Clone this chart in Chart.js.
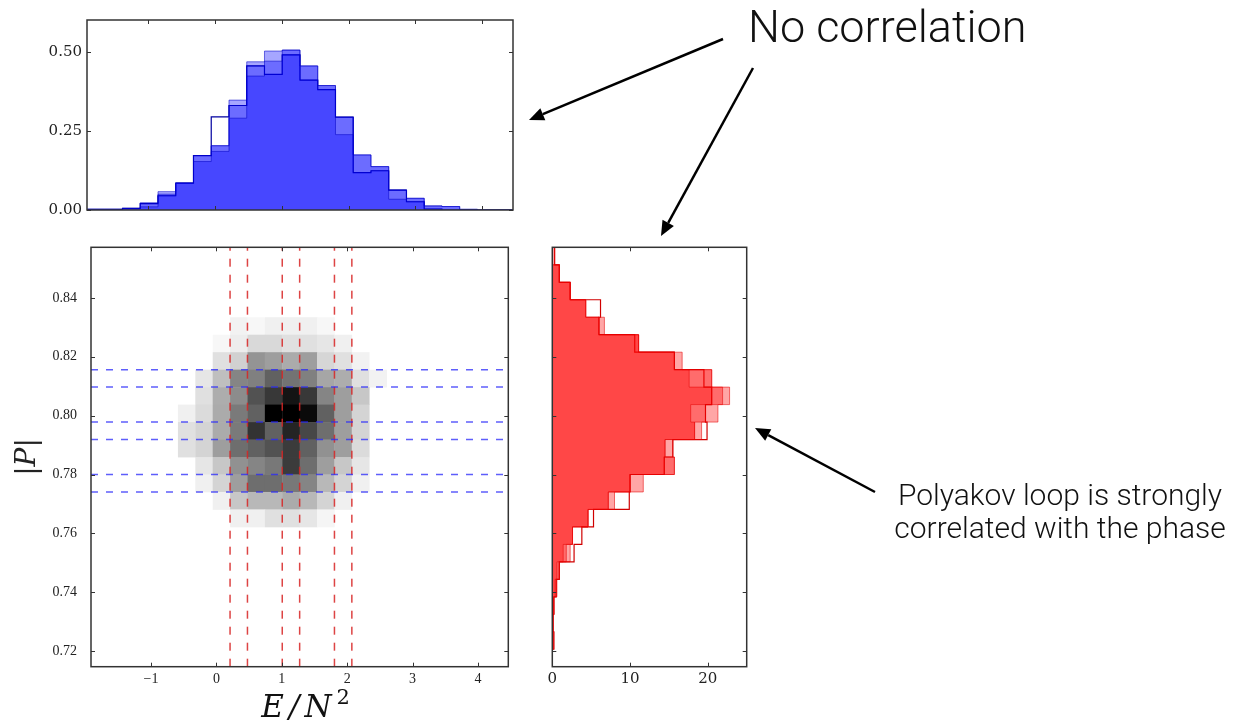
<!DOCTYPE html>
<html>
<head>
<meta charset="utf-8">
<title>Polyakov loop vs E/N^2</title>
<script src="https://cdn.jsdelivr.net/npm/chart.js@4.4.1/dist/chart.umd.min.js"></script>
<style>
  html, body { margin: 0; padding: 0; background: #fff; }
  body { position: relative; width: 1235px; height: 726px; overflow: hidden; }
  canvas { position: absolute; }
  #topHist { left: 27px; top: 6px; }
  #heat { left: 0px; top: 230px; }
  #sideHist { left: 540px; top: 230px; }
  #notes { left: 0; top: 0; pointer-events: none; }
  .note { position: absolute; font-family: Roboto, 'Open Sans', 'Liberation Sans', sans-serif; font-weight: 300; color: #111; white-space: nowrap; }
</style>
</head>
<body>
<canvas id="topHist" width="494" height="214"></canvas>
<canvas id="heat" width="520" height="496"></canvas>
<canvas id="sideHist" width="220" height="496"></canvas>
<canvas id="notes" width="1235" height="726"></canvas>
<div class="note" style="left:748px;top:-1px;font-size:45px;line-height:56px">No correlation</div>
<div class="note" style="left:880px;top:478px;width:360px;text-align:center;font-size:30px;line-height:33px">Polyakov loop is strongly<br>correlated with the phase</div>

<script>
// histogram bins, shared by the three panels (24 bins each way)
const eStart = -1.917, eWidth = 0.2658;
const pStart = 0.7147, pWidth = 0.005937;
const eEdges = Array.from({length: 25}, (_, i) => eStart + i * eWidth);
const pEdges = Array.from({length: 25}, (_, i) => pStart + i * pWidth);

// E/N^2 distributions in the three |P| slices (top panel)
const blueA = [0.002, 0.002, 0.005, 0.010, 0.045, 0.085, 0.153, 0.185, 0.290, 0.423, 0.428, 0.490,
               0.410, 0.380, 0.238, 0.118, 0.124, 0.034, 0.026, 0.003, 0, 0.002, 0, 0];
const blueB = [0.002, 0.002, 0.005, 0.020, 0.050, 0.085, 0.172, 0.203, 0.330, 0.455, 0.470, 0.505,
               0.455, 0.393, 0.293, 0.174, 0.137, 0.063, 0.037, 0.013, 0.011, 0.002, 0, 0];
const blueC = [0.002, 0.002, 0.005, 0.023, 0.058, 0.085, 0.172, 0.203, 0.347, 0.468, 0.502, 0.505,
               0.455, 0.393, 0.293, 0.174, 0.137, 0.063, 0.037, 0.013, 0.011, 0.002, 0, 0];
const blueStep = [0.002, 0.002, 0.005, 0.020, 0.045, 0.085, 0.172, 0.294, 0.330, 0.455, 0.428, 0.490,
                  0.410, 0.380, 0.293, 0.118, 0.124, 0.063, 0.026, 0.003, 0, 0, 0, 0];

// |P| distributions in the three E/N^2 slices (right panel), bins bottom -> top
const redA = [0, 0.1, 0.1, 0.2, 0.35, 0.6, 1.4, 2.6, 4.6, 7.2, 10.0, 14.4,
              14.5, 18.3, 17.8, 20.5, 17.6, 15.7, 11.1, 6.0, 4.3, 2.3, 0.9, 0];
const redB = [0, 0.1, 0.1, 0.2, 0.5, 0.9, 1.8, 2.6, 4.6, 7.2, 10.0, 15.7,
              14.5, 18.3, 19.7, 21.9, 20.5, 15.7, 11.1, 6.0, 4.3, 2.3, 0.9, 0];
const redC = [0, 0.2, 0.1, 0.2, 0.6, 0.9, 2.3, 2.6, 4.6, 8.0, 11.7, 15.7,
              15.5, 19.2, 21.3, 22.8, 20.5, 16.7, 11.1, 6.7, 4.3, 2.3, 0.9, 0.3];
const redStep = [0, 0.2, 0.1, 0.2, 0.5, 0.9, 2.8, 3.8, 5.3, 9.9, 10.0, 14.4,
                 15.5, 19.9, 19.7, 20.5, 19.5, 15.7, 10.6, 6.0, 6.2, 2.3, 0.9, 0.3];

// 2d histogram (normalised), rows from |P| bin 19 down to 8, columns E bins 5..16
const heatCol0 = 5, heatRowTop = 19;
const heatCounts = [
  [0,    0,    0,    0.05, 0.03, 0.06, 0.06, 0.06, 0.03, 0,    0,    0   ],
  [0,    0,    0.03, 0.07, 0.15, 0.15, 0.12, 0.12, 0.10, 0.06, 0,    0   ],
  [0,    0,    0.12, 0.18, 0.42, 0.38, 0.33, 0.38, 0.16, 0.12, 0.05, 0   ],
  [0,    0.10, 0.25, 0.48, 0.50, 0.62, 0.55, 0.50, 0.35, 0.32, 0.12, 0.05],
  [0,    0.12, 0.32, 0.45, 0.68, 0.78, 0.92, 0.78, 0.48, 0.38, 0.22, 0   ],
  [0.06, 0.14, 0.33, 0.52, 0.62, 1.00, 1.00, 0.96, 0.62, 0.38, 0.17, 0   ],
  [0.12, 0.17, 0.33, 0.52, 0.80, 0.62, 0.86, 0.72, 0.57, 0.38, 0.17, 0   ],
  [0.12, 0.17, 0.38, 0.57, 0.62, 0.68, 0.77, 0.62, 0.43, 0.38, 0.14, 0   ],
  [0,    0.10, 0.22, 0.43, 0.48, 0.53, 0.77, 0.57, 0.38, 0.22, 0.10, 0   ],
  [0,    0.06, 0.17, 0.38, 0.57, 0.57, 0.53, 0.48, 0.28, 0.17, 0.06, 0   ],
  [0,    0,    0.06, 0.22, 0.28, 0.28, 0.33, 0.28, 0.17, 0.06, 0,    0   ],
  [0,    0,    0,    0.06, 0.06, 0.12, 0.12, 0.10, 0.04, 0,    0,    0   ]
];

// slice boundaries drawn as dashed lines
const eCuts = [0.209, 0.475, 1.007, 1.273, 1.805, 2.071];
const pCuts = [0.7741, 0.7800, 0.7919, 0.7978, 0.8097, 0.8156];

const eRange = [-1.917, 4.463];
const pRange = [0.7147, 0.8572];

Chart.defaults.font.family = "'Liberation Serif', 'DejaVu Serif', serif";
Chart.defaults.color = '#222';

// matplotlib-ish frame with inward ticks on all four sides
const frameTicks = {
  id: 'frameTicks',
  afterDraw(chart) {
    const {ctx, chartArea: a, scales: {x, y}} = chart;
    ctx.save();
    ctx.strokeStyle = '#333';
    ctx.lineWidth = 1;
    ctx.beginPath();
    x.ticks.forEach(t => {
      const px = Math.round(x.getPixelForValue(t.value)) + 0.5;
      ctx.moveTo(px, a.bottom); ctx.lineTo(px, a.bottom - 4);
      ctx.moveTo(px, a.top); ctx.lineTo(px, a.top + 4);
    });
    y.ticks.forEach(t => {
      const py = Math.round(y.getPixelForValue(t.value)) + 0.5;
      ctx.moveTo(a.left, py); ctx.lineTo(a.left + 4, py);
      ctx.moveTo(a.right, py); ctx.lineTo(a.right - 4, py);
    });
    ctx.stroke();
    ctx.lineWidth = 1.5;
    ctx.strokeRect(a.left, a.top, a.right - a.left, a.bottom - a.top);
    ctx.restore();
  }
};

// grey 2d histogram cells
const heatLayer = {
  id: 'heatLayer',
  beforeDatasetsDraw(chart) {
    const {ctx, scales: {x, y}} = chart;
    ctx.save();
    heatCounts.forEach((row, r) => {
      const k = heatRowTop - r;
      const y0 = y.getPixelForValue(pEdges[k + 1]);
      const y1 = y.getPixelForValue(pEdges[k]);
      row.forEach((v, c) => {
        if (!v) return;
        const j = heatCol0 + c;
        const x0 = x.getPixelForValue(eEdges[j]);
        const x1 = x.getPixelForValue(eEdges[j + 1]);
        const g = Math.round(255 * (1 - v));
        ctx.fillStyle = `rgb(${g},${g},${g})`;
        ctx.fillRect(x0, y0, x1 - x0 + 0.4, y1 - y0 + 0.4);
      });
    });
    ctx.restore();
  }
};

// x-axis label E/N^2 with a real superscript (chart.js titles are single-font)
const energyTitle = {
  id: 'energyTitle',
  afterDraw(chart) {
    const {ctx, chartArea: a} = chart;
    const base = chart.height - 9.5;
    ctx.save();
    ctx.fillStyle = '#111';
    ctx.textBaseline = 'alphabetic';
    ctx.font = "italic 31px 'DejaVu Serif'";
    ctx.letterSpacing = '5px';
    const w1 = ctx.measureText('E/N').width;
    ctx.font = "21px 'DejaVu Serif'";
    ctx.letterSpacing = '0px';
    const w2 = ctx.measureText('2').width;
    const x0 = (a.left + a.right) / 2 + 6 - (w1 + w2) / 2;
    ctx.font = "italic 31px 'DejaVu Serif'";
    ctx.letterSpacing = '5px';
    ctx.fillText('E/N', x0, base);
    ctx.font = "21px 'DejaVu Serif'";
    ctx.letterSpacing = '0px';
    ctx.fillText('2', x0 + w1, base - 13);
    ctx.restore();
  }
};

const fixWidth = w => scale => { scale.width = w; };
const fixHeight = h => scale => { scale.height = h; };
const minus = v => (v < 0 ? '\u2212' + Math.abs(v) : String(v));
// label gap comes from an undrawn tick length, so it does not eat into the layout padding
const noGrid = gap => ({display: false, drawTicks: true, tickLength: gap});

// step outline along E (horizontal bins)
const eSteps = vals => vals.map((v, i) => ({x: eEdges[i], y: v})).concat([{x: eEdges[vals.length], y: 0}]);
// step outline along |P| (vertical bins)
const pSteps = vals => [{x: 0, y: pEdges[0]}]
  .concat(vals.map((v, i) => ({x: v, y: pEdges[i]})))
  .concat([{x: 0, y: pEdges[vals.length]}]);

function histSet(data, fill, edge, width, filled) {
  return {
    data, stepped: true, tension: 0, pointRadius: 0,
    backgroundColor: fill, borderColor: edge, borderWidth: width,
    fill: filled ? 'origin' : false
  };
}

const blueFill = 'rgba(0,0,255,0.35)';
const redFill = 'rgba(255,0,0,0.35)';

new Chart(document.getElementById('topHist'), {
  type: 'line',
  data: {
    datasets: [
      histSet(eSteps(blueA), blueFill, 'rgba(0,0,200,0.55)', 1, true),
      histSet(eSteps(blueB), blueFill, 'rgba(0,0,200,0.55)', 1, true),
      histSet(eSteps(blueC), blueFill, 'rgba(0,0,200,0.55)', 1, true),
      histSet(eSteps(blueStep), 'transparent', '#0000a0', 1.2, false)
    ]
  },
  options: {
    responsive: false, animation: false, events: [],
    layout: {padding: {top: 14, right: 8, left: 0, bottom: 0}},
    plugins: {legend: {display: false}, tooltip: {enabled: false}},
    scales: {
      x: {
        type: 'linear', min: eRange[0], max: eRange[1],
        grid: noGrid(0), border: {display: false},
        ticks: {display: false, stepSize: 1, includeBounds: false},
        afterFit: fixHeight(10)
      },
      y: {
        min: 0, max: 0.6,
        grid: noGrid(5), border: {display: false},
        ticks: {stepSize: 0.25, includeBounds: false, padding: 0,
                font: {family: "'DejaVu Serif', serif", size: 15},
                callback: v => v.toFixed(2)},
        afterFit: fixWidth(60)
      }
    }
  },
  plugins: [frameTicks]
});

const cutStyle = {showLine: true, pointRadius: 0, borderWidth: 1.5, fill: false};
const eCutSets = eCuts.map(e => Object.assign({
  data: [{x: e, y: pRange[0]}, {x: e, y: pRange[1]}],
  borderColor: 'rgba(215,35,35,0.85)', borderDash: [8, 8]
}, cutStyle));
const pCutSets = pCuts.map(p => Object.assign({
  data: [{x: eRange[0], y: p}, {x: eRange[1], y: p}],
  borderColor: 'rgba(40,40,250,0.75)', borderDash: [7, 8]
}, cutStyle));

new Chart(document.getElementById('heat'), {
  type: 'scatter',
  data: {datasets: pCutSets.concat(eCutSets)},
  options: {
    responsive: false, animation: false, events: [],
    layout: {padding: {top: 17.3, right: 11.7, left: 0, bottom: 0}},
    plugins: {legend: {display: false}, tooltip: {enabled: false}},
    scales: {
      x: {
        type: 'linear', min: eRange[0], max: eRange[1],
        grid: noGrid(4), border: {display: false},
        ticks: {stepSize: 1, includeBounds: false, padding: 0, font: {size: 14}, callback: minus},
        afterFit: fixHeight(59.3)
      },
      y: {
        type: 'linear', min: pRange[0], max: pRange[1],
        grid: noGrid(14), border: {display: false},
        ticks: {stepSize: 0.02, includeBounds: false, padding: 0, font: {size: 14},
                callback: v => v.toFixed(2)},
        title: {display: true, text: '|P|', padding: {top: 14, bottom: 0},
                font: {family: "'DejaVu Serif', serif", style: 'italic', size: 28, lineHeight: 1}},
        afterFit: fixWidth(91)
      }
    }
  },
  plugins: [heatLayer, frameTicks, energyTitle]
});

const sideSet = (vals, fill, edge, width, filled) =>
  Object.assign(histSet(pSteps(vals), fill, edge, width, filled), {stepped: 'after'});

new Chart(document.getElementById('sideHist'), {
  type: 'line',
  data: {
    datasets: [
      sideSet(redA, redFill, 'rgba(230,0,0,0.55)', 1, true),
      sideSet(redB, redFill, 'rgba(230,0,0,0.55)', 1, true),
      sideSet(redC, redFill, 'rgba(230,0,0,0.55)', 1, true),
      sideSet(redStep, 'transparent', '#d00000', 1.2, false)
    ]
  },
  options: {
    indexAxis: 'y',
    responsive: false, animation: false, events: [],
    layout: {padding: {top: 17.3, right: 13.3, left: 0, bottom: 0}},
    plugins: {legend: {display: false}, tooltip: {enabled: false}},
    scales: {
      x: {
        type: 'linear', min: 0, max: 25,
        grid: noGrid(3), border: {display: false},
        ticks: {stepSize: 10, includeBounds: false, padding: 0,
                font: {family: "'DejaVu Serif', serif", size: 15}},
        afterFit: fixHeight(59.3)
      },
      y: {
        type: 'linear', min: pRange[0], max: pRange[1],
        grid: noGrid(0), border: {display: false},
        ticks: {display: false, stepSize: 0.02, includeBounds: false},
        afterFit: fixWidth(12.3)
      }
    }
  },
  plugins: [frameTicks]
});

// annotation arrows
const notes = document.getElementById('notes').getContext('2d');
function arrow(x1, y1, x2, y2) {
  const a = Math.atan2(y2 - y1, x2 - x1), len = 15, half = 6.5;
  const bx = x2 - len * Math.cos(a), by = y2 - len * Math.sin(a);
  notes.beginPath();
  notes.moveTo(x1, y1);
  notes.lineTo(bx, by);
  notes.stroke();
  notes.beginPath();
  notes.moveTo(x2, y2);
  notes.lineTo(bx + half * Math.sin(a), by - half * Math.cos(a));
  notes.lineTo(bx - half * Math.sin(a), by + half * Math.cos(a));
  notes.closePath();
  notes.fill();
}
notes.strokeStyle = '#000';
notes.fillStyle = '#000';
notes.lineWidth = 2.5;
arrow(723, 39, 529, 120);
arrow(753, 68, 661, 236);
arrow(875, 492, 755, 428);
</script>
</body>
</html>
